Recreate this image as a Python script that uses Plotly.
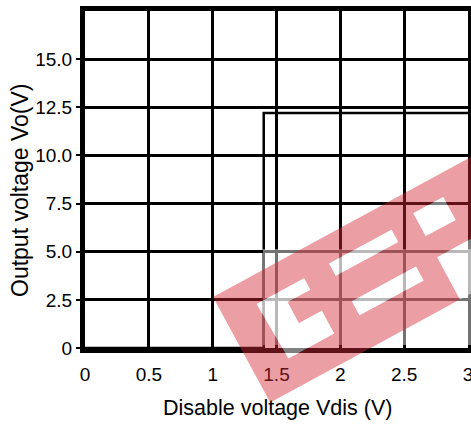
import math
import plotly.graph_objects as go

# data
vdis = [0, 1.4, 1.4, 3.0]
vo = [0, 0, 12.2, 12.2]

x_ticks = [0, 0.5, 1, 1.5, 2, 2.5, 3]
x_labels = ["0", "0.5", "1", "1.5", "2", "2.5", "3"]
y_ticks = [0, 2.5, 5, 7.5, 10, 12.5, 15]
y_labels = ["0", "2.5", "5.0", "7.5", "10.0", "12.5", "15.0"]

W, H = 471, 425
L, R, T, B = 85, 3, 11, 77


def px(x):
    return (x - L) / (W - L - R)


def py(y):
    return (H - B - y) / (H - T - B)


fig = go.Figure()
fig.add_trace(go.Scatter(x=vdis, y=vo, mode="lines",
                         line=dict(color="black", width=2.5),
                         showlegend=False, hoverinfo="skip"))

font = dict(family="Liberation Sans, Arial, sans-serif", size=19, color="black")

fig.update_layout(
    width=W, height=H,
    margin=dict(l=L, r=R, t=T, b=B, autoexpand=False),
    paper_bgcolor="white", plot_bgcolor="white",
    font=font,
    xaxis=dict(range=[0, 3], tickvals=x_ticks, ticktext=x_labels,
               showgrid=True, gridcolor="black", gridwidth=3,
               showline=True, linecolor="black", linewidth=5, mirror=True,
               ticks="outside", ticklen=5, tickcolor="rgba(0,0,0,0)",
               ticklabeloverflow="allow", zeroline=False),
    yaxis=dict(range=[0, 17.5], tickvals=y_ticks, ticktext=y_labels,
               showgrid=True, gridcolor="black", gridwidth=3,
               showline=True, linecolor="black", linewidth=5, mirror=True,
               ticks="outside", ticklen=4, tickwidth=2, tickcolor="black",
               ticklabeloverflow="allow", zeroline=False),
)

# axis titles
fig.add_annotation(xref="paper", yref="paper", x=px(277), y=py(408),
                   text="Disable voltage Vdis (V)", showarrow=False,
                   font=dict(size=21.5), xanchor="center", yanchor="middle")
fig.add_annotation(xref="paper", yref="paper", x=px(20), y=py(190),
                   text="Output voltage Vo(V)", showarrow=False, textangle=-90,
                   font=dict(size=23), xanchor="center", yanchor="middle")

# ---- watermark (decorative logo band) ----
ANG = math.radians(28.5)
OX, OY = 213, 297
cu, su = math.cos(ANG), math.sin(ANG)


def band_pt(u, v):
    X = OX + u * cu + v * su
    Y = OY - u * su + v * cu
    return px(X), py(Y)


def poly(pts):
    return " L ".join(f"{a:.4f},{b:.4f}" for a, b in (band_pt(u, v) for u, v in pts))


def rect_uv(u0, u1, v0, v1):
    return [(u0, v0), (u1, v0), (u1, v1), (u0, v1)]


g_shape = [(35, 27), (89, 27), (89, 40), (63, 40), (63, 64), (89, 64), (89, 90), (37, 90)]
e_top = rect_uv(118, 189, 26, 40)
e_bot = rect_uv(120, 193, 70, 86)
p_hole = rect_uv(216, 250, 22, 48)
p_low = rect_uv(216, 330, 72, 120)
holes = [g_shape, e_top, e_bot, p_hole, p_low]

# faded lower-right area of the scan
fig.add_shape(type="rect", xref="paper", yref="paper",
              x0=px(263), x1=px(480), y0=py(249), y1=py(345),
              fillcolor="rgba(255,255,255,0.45)", line=dict(width=0), layer="above")

band_path = "M " + poly(rect_uv(0, 330, 0, 120)) + " Z"
for hole in holes:
    band_path += " M " + poly(hole[::-1]) + " Z"
fig.add_shape(type="path", xref="paper", yref="paper", path=band_path,
              fillcolor="rgba(210,40,50,0.45)", line=dict(width=0), layer="above")

for hole in holes:
    fig.add_shape(type="path", xref="paper", yref="paper",
                  path="M " + poly(hole) + " Z",
                  fillcolor="rgba(255,255,255,0.5)", line=dict(width=0), layer="above")

fig.write_html("out.html", config={"displayModeBar": False},
               post_script="document.body.style.margin='0px';")
